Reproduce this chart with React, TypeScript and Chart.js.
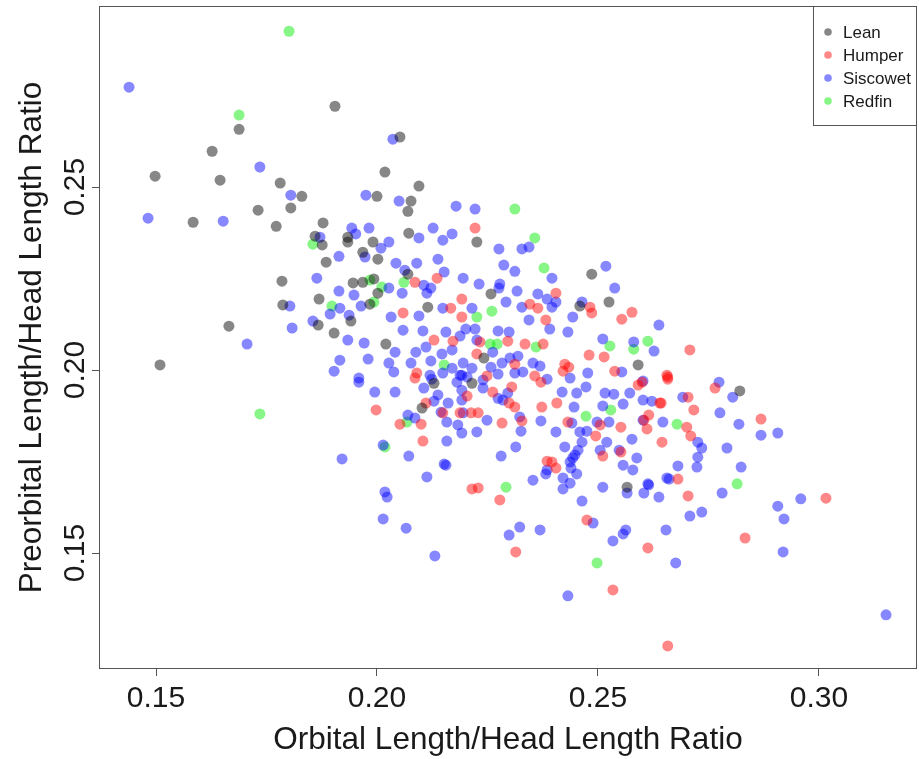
import React, { useEffect, useRef } from "react";
import { Chart, registerables } from "chart.js";

Chart.register(...registerables);

const FONT = "'Liberation Sans', Arial, Helvetica, sans-serif";
const AXIS_COLOR = "#555555";
const TEXT_COLOR = "#1a1a1a";

const xTicks = [0.15, 0.2, 0.25, 0.3];
const yTicks = [0.15, 0.2, 0.25];
const xRange = [0.1371, 0.3222];
const yRange = [0.1183, 0.2995];

const xTitle = "Orbital Length/Head Length Ratio";
const yTitle = "Preorbital Length/Head Length Ratio";

const seriesNames = ["Lean", "Humper", "Siscowet", "Redfin"];
const seriesColors = [
  "rgba(0,0,0,0.47)",
  "rgba(255,0,0,0.47)",
  "rgba(0,0,255,0.47)",
  "rgba(0,235,0,0.47)",
];

const leanPoints = [
  [0.1905, 0.2721], [0.1688, 0.2658], [0.1627, 0.2598], [0.1498, 0.253], [0.1645, 0.2519],
  [0.1781, 0.2511], [0.183, 0.2475], [0.2, 0.2475], [0.1584, 0.2404], [0.1731, 0.2437],
  [0.1805, 0.2443], [0.1772, 0.2393], [0.1878, 0.2402], [0.186, 0.2366], [0.1876, 0.2342],
  [0.1934, 0.2363], [0.1934, 0.235], [0.1968, 0.2322], [0.1991, 0.235], [0.2095, 0.2503],
  [0.2077, 0.2462], [0.207, 0.2434], [0.2072, 0.2374], [0.2226, 0.235], [0.2002, 0.2303],
  [0.1885, 0.2295], [0.207, 0.2262], [0.1785, 0.2243], [0.1946, 0.2238], [0.1968, 0.224],
  [0.1993, 0.2249], [0.2002, 0.221], [0.1869, 0.2194], [0.1984, 0.218], [0.1787, 0.2178],
  [0.1867, 0.2123], [0.1941, 0.2134], [0.1903, 0.2101], [0.2115, 0.2172], [0.202, 0.2071],
  [0.2486, 0.2262], [0.2258, 0.2208], [0.2459, 0.2175], [0.2525, 0.2186], [0.2591, 0.2014],
  [0.2242, 0.2033], [0.2129, 0.1964], [0.2215, 0.1964], [0.2102, 0.1896], [0.2566, 0.168],
  [0.2821, 0.1943], [0.2052, 0.2637], [0.2018, 0.2541], [0.1509, 0.2014], [0.1665, 0.212],
];

const humperPoints = [
  [0.2222, 0.2388], [0.2086, 0.224], [0.2136, 0.2251], [0.2059, 0.2156], [0.2167, 0.2169],
  [0.2192, 0.2194], [0.2192, 0.2145], [0.2129, 0.2082], [0.2172, 0.2079], [0.2226, 0.2044],
  [0.209, 0.1992], [0.2405, 0.221], [0.2346, 0.218], [0.2364, 0.2169], [0.2482, 0.2172],
  [0.2486, 0.2156], [0.2554, 0.2139], [0.2577, 0.2158], [0.2382, 0.2137], [0.2233, 0.2077],
  [0.2296, 0.2079], [0.2335, 0.2071], [0.2376, 0.2071], [0.248, 0.2041], [0.2514, 0.2036],
  [0.2312, 0.2016], [0.2425, 0.2016], [0.2434, 0.2008], [0.2538, 0.1997], [0.2656, 0.1986],
  [0.2249, 0.1984], [0.2086, 0.1978], [0.1998, 0.1891], [0.2204, 0.1929], [0.2111, 0.191],
  [0.2052, 0.1852], [0.21, 0.1852], [0.2149, 0.1883], [0.2188, 0.1883], [0.2213, 0.1883],
  [0.2229, 0.1883], [0.2104, 0.1806], [0.2215, 0.1675], [0.2229, 0.1678], [0.2262, 0.194],
  [0.2305, 0.1954], [0.2299, 0.191], [0.2312, 0.1899], [0.2357, 0.1984], [0.2371, 0.1967],
  [0.2407, 0.191], [0.2373, 0.1899], [0.2591, 0.1959], [0.26, 0.1967], [0.264, 0.191],
  [0.2283, 0.1855], [0.2328, 0.1861], [0.2432, 0.1858], [0.2505, 0.185], [0.2552, 0.1844],
  [0.2611, 0.1839], [0.2495, 0.182], [0.2645, 0.1803], [0.2552, 0.1776], [0.2511, 0.1765],
  [0.2385, 0.1751], [0.2396, 0.1749], [0.2405, 0.1732], [0.2278, 0.1645], [0.2475, 0.159],
  [0.2314, 0.1503], [0.2613, 0.1514], [0.2708, 0.2055], [0.2658, 0.1981], [0.2658, 0.1975],
  [0.2765, 0.1951], [0.2704, 0.1926], [0.2643, 0.191], [0.2717, 0.1891], [0.2615, 0.1877],
  [0.2604, 0.1863], [0.2701, 0.1844], [0.271, 0.182], [0.2869, 0.1866], [0.2681, 0.1702],
  [0.2704, 0.1656], [0.3016, 0.165], [0.2833, 0.1541], [0.2534, 0.1399], [0.2658, 0.1246],
  [0.2421, 0.1997],
];

const siscowetPoints = [
  [0.1439, 0.2773], [0.1735, 0.2555], [0.1805, 0.2478], [0.1975, 0.2478], [0.1482, 0.2415],
  [0.1652, 0.2407], [0.1871, 0.2363], [0.1943, 0.2388], [0.1952, 0.2372], [0.1982, 0.2388],
  [0.1914, 0.2311], [0.1973, 0.2309], [0.205, 0.2462], [0.2179, 0.2448], [0.2222, 0.244],
  [0.2127, 0.2388], [0.217, 0.2372], [0.2149, 0.2355], [0.2095, 0.2361], [0.2027, 0.235],
  [0.2009, 0.2333], [0.2043, 0.2292], [0.209, 0.2292], [0.2138, 0.2303], [0.2152, 0.2268],
  [0.2063, 0.2273], [0.2195, 0.2251], [0.1864, 0.2251], [0.2027, 0.2224], [0.2106, 0.2232],
  [0.2122, 0.2224], [0.2113, 0.221], [0.2057, 0.221], [0.1914, 0.2216], [0.1948, 0.2205],
  [0.1916, 0.2169], [0.1964, 0.2175], [0.1803, 0.2175], [0.1894, 0.2153], [0.1937, 0.215],
  [0.1855, 0.2134], [0.1808, 0.2115], [0.2032, 0.2145], [0.2095, 0.2148], [0.2059, 0.2109],
  [0.2104, 0.2107], [0.2156, 0.2104], [0.2149, 0.2169], [0.2215, 0.2169], [0.2201, 0.2112],
  [0.2222, 0.2112], [0.2188, 0.2093], [0.2226, 0.2082], [0.1934, 0.2082], [0.1971, 0.2074],
  [0.2041, 0.2049], [0.2088, 0.2049], [0.2111, 0.2063], [0.2147, 0.2044], [0.217, 0.2055],
  [0.1916, 0.2027], [0.198, 0.203], [0.2027, 0.2019], [0.2077, 0.2019], [0.2122, 0.2025],
  [0.217, 0.2005], [0.2195, 0.2019], [0.2215, 0.2005], [0.1903, 0.1997], [0.2038, 0.1995],
  [0.212, 0.1986], [0.2188, 0.1986], [0.1959, 0.1978], [0.2276, 0.2331], [0.2328, 0.2331],
  [0.2344, 0.2336], [0.2287, 0.2287], [0.2312, 0.227], [0.2396, 0.2251], [0.2518, 0.2284],
  [0.2538, 0.2224], [0.2231, 0.2235], [0.2278, 0.2235], [0.2276, 0.2224], [0.2317, 0.2216],
  [0.2364, 0.2208], [0.2292, 0.2186], [0.2328, 0.2172], [0.2385, 0.2194], [0.2396, 0.2172],
  [0.2405, 0.2186], [0.2464, 0.2186], [0.2443, 0.2145], [0.2638, 0.2123], [0.2344, 0.2137],
  [0.2391, 0.2112], [0.2432, 0.2104], [0.2274, 0.2107], [0.2299, 0.2104], [0.2511, 0.2085],
  [0.2581, 0.2077], [0.2627, 0.2052], [0.2262, 0.2049], [0.2301, 0.2033], [0.2319, 0.2038],
  [0.2283, 0.2019], [0.2258, 0.2008], [0.2353, 0.2019], [0.2369, 0.2011], [0.233, 0.1995],
  [0.2477, 0.1992], [0.2554, 0.1995], [0.2274, 0.1989], [0.2312, 0.1992], [0.1959, 0.1967],
  [0.1995, 0.194], [0.2041, 0.194], [0.2124, 0.1975], [0.2149, 0.1992], [0.2181, 0.1967],
  [0.2192, 0.1986], [0.2204, 0.1981], [0.2106, 0.1951], [0.2138, 0.1932], [0.2129, 0.1915],
  [0.2161, 0.191], [0.2192, 0.1945], [0.2192, 0.1918], [0.207, 0.1877], [0.2086, 0.1869],
  [0.2145, 0.1885], [0.2158, 0.1858], [0.2195, 0.1883], [0.2183, 0.185], [0.2192, 0.1828],
  [0.2226, 0.1831], [0.2158, 0.1806], [0.2014, 0.1795], [0.1921, 0.1757], [0.2072, 0.1765],
  [0.2152, 0.1743], [0.2156, 0.174], [0.2113, 0.1708], [0.2018, 0.1667], [0.2023, 0.1653],
  [0.2014, 0.1593], [0.2066, 0.1568], [0.2131, 0.1492], [0.224, 0.1973], [0.224, 0.1951],
  [0.2274, 0.1923], [0.2285, 0.1918], [0.2296, 0.1937], [0.2385, 0.1975], [0.2437, 0.1978],
  [0.2419, 0.194], [0.2452, 0.1937], [0.2473, 0.1954], [0.2446, 0.1899], [0.2516, 0.1937],
  [0.2536, 0.1934], [0.2572, 0.1937], [0.2602, 0.1918], [0.2622, 0.1915], [0.2557, 0.1907],
  [0.2511, 0.1902], [0.2249, 0.1863], [0.2323, 0.1872], [0.2371, 0.1861], [0.2441, 0.1855],
  [0.2498, 0.1858], [0.2525, 0.1858], [0.2602, 0.1863], [0.2647, 0.1858], [0.2326, 0.1833],
  [0.2405, 0.1831], [0.2459, 0.1831], [0.2475, 0.1833], [0.2464, 0.1803], [0.252, 0.1803],
  [0.2577, 0.1811], [0.2314, 0.179], [0.2425, 0.179], [0.2455, 0.1781], [0.2505, 0.1781],
  [0.2548, 0.1781], [0.2588, 0.176], [0.2281, 0.1765], [0.2443, 0.176], [0.2437, 0.1749],
  [0.2448, 0.1768], [0.2439, 0.1732], [0.2385, 0.1727], [0.2382, 0.1716], [0.2452, 0.1716],
  [0.2557, 0.174], [0.2579, 0.1727], [0.2353, 0.1699], [0.2421, 0.1705], [0.2437, 0.1691],
  [0.2421, 0.1675], [0.2656, 0.1705], [0.2511, 0.168], [0.2566, 0.1664], [0.2615, 0.1686],
  [0.2604, 0.1664], [0.2638, 0.1653], [0.2464, 0.1642], [0.2489, 0.1582], [0.2323, 0.1571],
  [0.2299, 0.1549], [0.2369, 0.1563], [0.2563, 0.1563], [0.2557, 0.1552], [0.2534, 0.1533],
  [0.2654, 0.1563], [0.2602, 0.197], [0.2774, 0.1967], [0.2805, 0.1926], [0.2692, 0.1926],
  [0.2776, 0.1883], [0.2819, 0.1852], [0.2869, 0.1822], [0.2907, 0.1828], [0.2726, 0.1803],
  [0.2735, 0.1787], [0.2792, 0.1787], [0.2726, 0.1762], [0.2724, 0.1735], [0.2681, 0.1738],
  [0.2824, 0.1735], [0.2661, 0.1702], [0.2613, 0.1689], [0.2781, 0.1664], [0.2907, 0.1628],
  [0.2921, 0.1593], [0.2959, 0.1648], [0.2735, 0.1612], [0.2708, 0.1601], [0.2919, 0.1503],
  [0.2676, 0.1473], [0.3152, 0.1331], [0.2432, 0.1383], [0.1706, 0.2071], [0.2036, 0.2631],
];

const redfinPoints = [
  [0.1801, 0.2926], [0.1688, 0.2697], [0.1855, 0.2344], [0.1984, 0.2246], [0.2011, 0.2227],
  [0.2061, 0.224], [0.1898, 0.2175], [0.1993, 0.2186], [0.2226, 0.2145], [0.2152, 0.2014],
  [0.2312, 0.244], [0.2357, 0.2361], [0.2378, 0.2279], [0.226, 0.2161], [0.2256, 0.2071],
  [0.2272, 0.2071], [0.236, 0.2063], [0.2527, 0.2066], [0.2581, 0.2057], [0.2613, 0.2079],
  [0.2068, 0.1858], [0.2018, 0.179], [0.2529, 0.1891], [0.2473, 0.1874], [0.2292, 0.168],
  [0.2498, 0.1473], [0.2679, 0.1852], [0.2815, 0.1689], [0.1735, 0.188],
];

const seriesPoints = [leanPoints, humperPoints, siscowetPoints, redfinPoints];

const framePlugin = {
  id: "rFrame",
  afterDraw(chart: any) {
    const { ctx, chartArea: a, scales } = chart;
    ctx.save();
    // box around plot
    ctx.strokeStyle = AXIS_COLOR;
    ctx.lineWidth = 1;
    ctx.strokeRect(a.left + 0.5, a.top + 0.5, a.right - a.left - 1, a.bottom - a.top - 1);

    // rotated y tick labels (R style, parallel to axis)
    const ys = scales.y;
    ctx.fillStyle = TEXT_COLOR;
    ctx.font = `30px ${FONT}`;
    ctx.textAlign = "center";
    ctx.textBaseline = "alphabetic";
    ys.ticks.forEach((t: any) => {
      const py = ys.getPixelForValue(t.value);
      ctx.save();
      ctx.translate(a.left - 15, py);
      ctx.rotate(-Math.PI / 2);
      ctx.fillText(Number(t.value).toFixed(2), 0, 0);
      ctx.restore();
    });

    // legend box in top-right corner
    const lx = 813;
    const ly = a.top;
    const lr = a.right;
    const lb = 125;
    ctx.strokeStyle = AXIS_COLOR;
    ctx.strokeRect(lx + 0.5, ly + 0.5, lr - lx - 1, lb - ly);
    ctx.font = `17px ${FONT}`;
    ctx.textAlign = "left";
    ctx.textBaseline = "middle";
    chart.data.datasets.forEach((ds: any, i: number) => {
      const cy = 32 + i * 23;
      ctx.beginPath();
      ctx.fillStyle = ds.backgroundColor;
      ctx.arc(828, cy, 3.8, 0, Math.PI * 2);
      ctx.fill();
      ctx.fillStyle = TEXT_COLOR;
      ctx.fillText(ds.label, 843, cy + 1);
    });
    ctx.restore();
  },
};

export default function App() {
  const canvasRef = useRef<HTMLCanvasElement | null>(null);

  useEffect(() => {
    if (!canvasRef.current) return;
    const datasets = seriesNames.map((name, i) => ({
      label: name,
      data: seriesPoints[i].map(([x, y]) => ({ x, y })),
      backgroundColor: seriesColors[i],
      borderWidth: 0,
      pointRadius: 5.5,
      pointHoverRadius: 5.5,
    }));

    const chart = new Chart(canvasRef.current, {
      type: "scatter",
      data: { datasets },
      options: {
        animation: false,
        responsive: false,
        events: [],
        layout: { autoPadding: false, padding: { top: 6, right: 2, left: 0, bottom: 0 } },
        plugins: {
          legend: { display: false },
          tooltip: { enabled: false },
        },
        scales: {
          x: {
            type: "linear",
            min: xRange[0],
            max: xRange[1],
            afterBuildTicks: (scale: any) => {
              scale.ticks = xTicks.map((v) => ({ value: v }));
            },
            afterFit: (scale: any) => {
              scale.height = 90;
              scale.paddingLeft = 0;
              scale.paddingRight = 0;
            },
            border: { display: false },
            grid: {
              display: true,
              drawOnChartArea: false,
              drawTicks: true,
              tickLength: 7,
              color: AXIS_COLOR,
            },
            ticks: {
              color: TEXT_COLOR,
              font: { family: FONT, size: 30, lineHeight: 1.2 },
              padding: 5,
              maxRotation: 0,
              minRotation: 0,
              callback: (v: any) => Number(v).toFixed(2),
            },
            title: {
              display: true,
              text: xTitle,
              color: TEXT_COLOR,
              font: { family: FONT, size: 31.5, lineHeight: 1.2 },
              padding: { top: 0, bottom: 0 },
            },
          },
          y: {
            type: "linear",
            min: yRange[0],
            max: yRange[1],
            afterBuildTicks: (scale: any) => {
              scale.ticks = yTicks.map((v) => ({ value: v }));
            },
            afterFit: (scale: any) => {
              scale.width = 99;
              scale.paddingTop = 0;
              scale.paddingBottom = 0;
            },
            border: { display: false },
            grid: {
              display: true,
              drawOnChartArea: false,
              drawTicks: true,
              tickLength: 7,
              color: AXIS_COLOR,
            },
            ticks: { display: false },
            title: {
              display: true,
              text: yTitle,
              color: TEXT_COLOR,
              font: { family: FONT, size: 31.5, lineHeight: 1.2 },
              padding: { top: 13, bottom: 0 },
            },
          },
        },
      },
      plugins: [framePlugin],
    });

    return () => chart.destroy();
  }, []);

  return (
    <div style={{ position: "absolute", left: 0, top: 0, width: 919, height: 759, background: "#fff" }}>
      <canvas ref={canvasRef} width={919} height={759} style={{ display: "block" }} />
    </div>
  );
}
